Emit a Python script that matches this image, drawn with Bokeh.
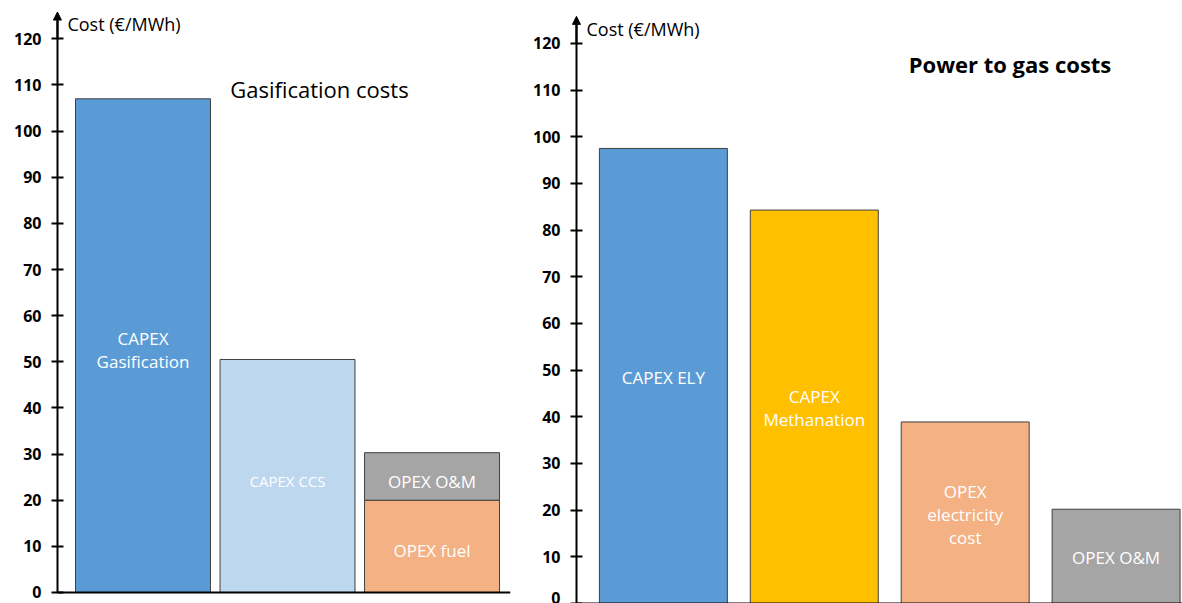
from bokeh.plotting import figure
from bokeh.layouts import row
from bokeh.models import Range1d, FixedTicker, Arrow, NormalHead, Label, ColumnDataSource
from bokeh.core.properties import value
from bokeh.embed import file_html
from bokeh.resources import INLINE

# ---------------- data ----------------
y_ticks = list(range(0, 121, 10))
axis_title = "Cost (€/MWh)"

gas_title = "Gasification costs"
gas_labels = ["CAPEX\nGasification", "CAPEX CCS", "OPEX fuel", "OPEX O&M"]
gas_slot = [0, 1, 2, 2]
gas_values = [107.0, 50.5, 20.0, 10.3]
gas_colors = ["#5B9BD5", "#BDD7EE", "#F4B183", "#A5A5A5"]
gas_label_sizes = ["17px", "15px", "17px", "17px"]

p2g_title = "Power to gas costs"
p2g_labels = ["CAPEX ELY", "CAPEX\nMethanation", "OPEX\nelectricity\ncost", "OPEX O&M"]
p2g_slot = [0, 1, 2, 3]
p2g_values = [97.5, 84.3, 38.9, 20.2]
p2g_colors = ["#5B9BD5", "#FFC000", "#F4B183", "#A5A5A5"]
p2g_label_sizes = ["17px", "17px", "17px", "17px"]

FONT = "Open Sans"


def stack(slots, vals):
    bottoms, tops, acc = [], [], {}
    for s, v in zip(slots, vals):
        b = acc.get(s, 0.0)
        bottoms.append(b)
        tops.append(b + v)
        acc[s] = b + v
    return bottoms, tops


def make_panel(width, br, xr, axis_x, yr, slots, vals, labels, colors, sizes, bar_w,
               title, title_xy, title_bold, cost_y, label_shift):
    p = figure(width=width, height=603, x_range=Range1d(*xr), y_range=Range1d(*yr),
               output_backend="svg", toolbar_location=None,
               min_border_left=0, min_border_right=br, min_border_top=0, min_border_bottom=0)
    p.outline_line_color = None
    p.grid.visible = False

    # y axis placed inside the frame so the arrow head is not clipped
    ax = p.yaxis[0]
    ax.fixed_location = axis_x
    ax.ticker = FixedTicker(ticks=y_ticks)
    ax.bounds = (0, 124)
    ax.axis_line_width = 2
    ax.axis_line_color = "black"
    ax.major_tick_in = 6
    ax.major_tick_out = 6
    ax.major_tick_line_width = 2
    ax.major_tick_line_color = "black"
    ax.minor_tick_line_color = None
    ax.major_label_standoff = 10
    ax.major_label_text_font = FONT
    ax.major_label_text_font_style = "bold"
    ax.major_label_text_font_size = "16px"
    ax.major_label_text_color = "black"

    # x axis: plain baseline starting at the y axis
    xa = p.xaxis[0]
    xa.fixed_location = 0
    xa.bounds = (axis_x, xr[1])
    xa.ticker = FixedTicker(ticks=[])
    xa.axis_line_width = 2
    xa.axis_line_color = "black"
    xa.major_tick_line_color = None
    xa.minor_tick_line_color = None
    xa.major_label_text_font_size = "0px"

    bottoms, tops = stack(slots, vals)
    src = ColumnDataSource(dict(x=slots, bottom=bottoms, top=tops, color=colors, label=labels,
                                ly=[(b + t) / 2 - label_shift for b, t in zip(bottoms, tops)],
                                size=sizes))
    p.vbar(x="x", bottom="bottom", top="top", width=bar_w, fill_color="color",
           line_color="#404040", line_width=1, source=src)
    p.text(x="x", y="ly", text="label", text_color="white", text_align="center",
           text_baseline="middle", text_font=value(FONT), text_font_size="size",
           text_line_height=1.0, source=src)

    p.add_layout(Arrow(end=NormalHead(size=8, fill_color="black", line_color="black"),
                       x_start=axis_x, y_start=120.0, x_end=axis_x, y_end=125.8,
                       line_width=2, line_color="black"))
    p.add_layout(Label(x=axis_x, y=cost_y, x_offset=10, text=axis_title, text_font=FONT,
                       text_font_size="18px", text_baseline="middle", text_color="black"))
    p.add_layout(Label(x=title_xy[0], y=title_xy[1], text=title, text_font=FONT,
                       text_font_size="22px", text_align="center", text_baseline="middle",
                       text_font_style="bold" if title_bold else "normal", text_color="black"))
    return p


p1 = make_panel(515, 5, (-0.986, 2.543), -0.592, (-2.384, 128.3), gas_slot, gas_values,
                gas_labels, gas_colors, gas_label_sizes, 0.934,
                gas_title, (1.221, 109.2), False, 123.3, 1.0)
p2 = make_panel(667, 0, (-0.980, 3.440), -0.576, (0.0, 129.2), p2g_slot, p2g_values,
                p2g_labels, p2g_colors, p2g_label_sizes, 0.848,
                p2g_title, (2.297, 115.7), True, 123.1, 0.35)

layout = row(p1, p2)
open("out.html", "w").write(file_html(layout, INLINE))
